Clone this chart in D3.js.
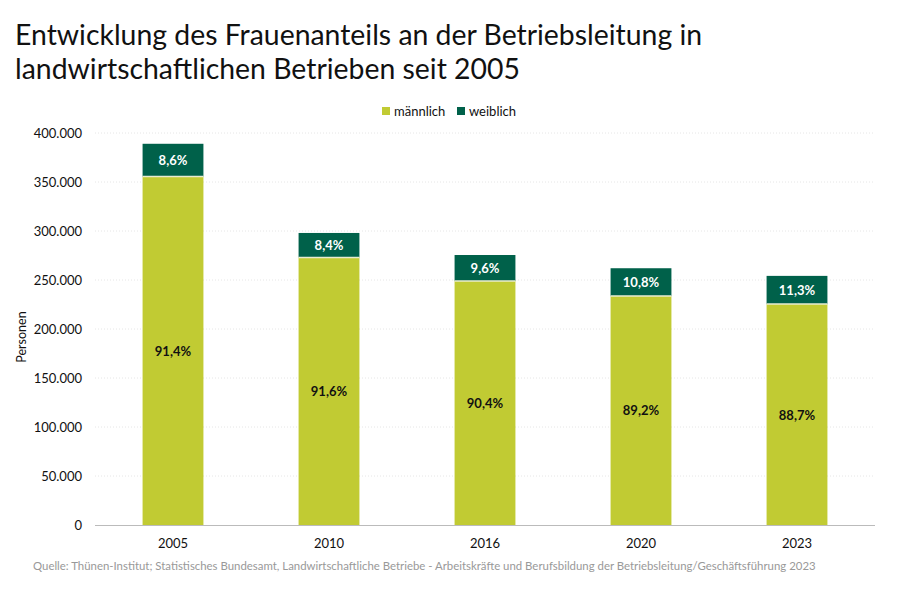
<!DOCTYPE html>
<html><head><meta charset="utf-8">
<script src="https://cdn.jsdelivr.net/npm/d3@7"></script>
<style>body{margin:0;background:#fff}svg{display:block}text{font-family:Lato,"Noto Sans",sans-serif}</style>
</head><body><svg id="c" width="900" height="590"></svg>
<script>
const years = ["2005","2010","2016","2020","2023"];
const maleValues = [355500, 273000, 249000, 233700, 225500];
const femaleValues = [33500, 25000, 26500, 28300, 28700];
const maleLabels = ["91,4%","91,6%","90,4%","89,2%","88,7%"];
const femaleLabels = ["8,6%","8,4%","9,6%","10,8%","11,3%"];
const yTicks = [0,50000,100000,150000,200000,250000,300000,350000,400000];
const seriesNames = ["männlich","weiblich"];
const colors = ["#c1cb33","#00614a"];

const svg = d3.select("#c");
const m = {l:95, r:875, t:133, b:525};
const x = d3.scaleBand().domain(years).range([m.l, m.r]).paddingInner(0.61).paddingOuter(0.305);
const y = d3.scaleLinear().domain([0,400000]).range([m.b, m.t]);
const fmt = v => d3.format(",")(v).replace(/,/g,".");

// title
const title = svg.append("text").attr("font-size",28.4).attr("fill","#111");
title.append("tspan").attr("x",15).attr("y",45).text("Entwicklung des Frauenanteils an der Betriebsleitung in");
title.append("tspan").attr("x",15).attr("y",79).text("landwirtschaftlichen Betrieben seit 2005");

// grid
svg.append("g").selectAll("line").data(yTicks.filter(d=>d>0)).join("line")
  .attr("x1",m.l).attr("x2",m.r).attr("y1",d=>y(d)).attr("y2",d=>y(d))
  .attr("stroke","#e6e6e6").attr("stroke-dasharray","1,2").attr("stroke-width",1);

// y axis
const ya = svg.append("g").attr("transform",`translate(${m.l},0)`)
  .call(d3.axisLeft(y).tickValues(yTicks).tickFormat(fmt).tickSize(0).tickPadding(13));
ya.select(".domain").remove();
ya.selectAll("text").attr("font-size",13).attr("fill","#111").style("font-family","Lato,'Noto Sans',sans-serif");

svg.append("text").attr("transform","translate(26,337) rotate(-90)").attr("text-anchor","middle")
  .attr("font-size",12.5).attr("fill","#111").text("Personen");

// bars
const data = years.map((yr,i)=>({yr, m:maleValues[i], f:femaleValues[i], ml:maleLabels[i], fl:femaleLabels[i]}));
const g = svg.append("g");
g.selectAll("rect.m").data(data).join("rect").attr("class","m")
  .attr("x",d=>x(d.yr)).attr("width",x.bandwidth())
  .attr("y",d=>y(d.m)).attr("height",d=>y(0)-y(d.m)).attr("fill",colors[0]);
g.selectAll("rect.f").data(data).join("rect").attr("class","f")
  .attr("x",d=>x(d.yr)).attr("width",x.bandwidth())
  .attr("y",d=>y(d.m+d.f)).attr("height",d=>y(d.m)-y(d.m+d.f)).attr("fill",colors[1]);
g.selectAll("line.sep").data(data).join("line").attr("class","sep")
  .attr("x1",d=>x(d.yr)).attr("x2",d=>x(d.yr)+x.bandwidth())
  .attr("y1",d=>y(d.m)).attr("y2",d=>y(d.m)).attr("stroke","#e8ecd0").attr("stroke-width",1.5);

g.selectAll("text.ml").data(data).join("text").attr("class","ml")
  .attr("x",d=>x(d.yr)+x.bandwidth()/2).attr("y",d=>y(d.m/2)+5)
  .attr("text-anchor","middle").attr("font-size",13).attr("font-weight","bold").attr("fill","#111").text(d=>d.ml);
g.selectAll("text.fl").data(data).join("text").attr("class","fl")
  .attr("x",d=>x(d.yr)+x.bandwidth()/2).attr("y",d=>y(d.m+d.f/2)+5)
  .attr("text-anchor","middle").attr("font-size",13).attr("font-weight","bold").attr("fill","#fff").text(d=>d.fl);

// baseline
svg.append("line").attr("x1",m.l).attr("x2",m.r).attr("y1",y(0)+0.5).attr("y2",y(0)+0.5).attr("stroke","#bbb");

// x axis
const xa = svg.append("g").attr("transform",`translate(0,${m.b})`)
  .call(d3.axisBottom(x).tickSize(0).tickPadding(14));
xa.select(".domain").remove();
xa.selectAll("text").attr("font-size",13).attr("fill","#111").style("font-family","Lato,'Noto Sans',sans-serif");

// legend
const leg = svg.append("g");
const lx = [382, 457];
seriesNames.forEach((n,i)=>{
  leg.append("rect").attr("x",lx[i]).attr("y",107).attr("width",8).attr("height",8).attr("fill",colors[i]);
  leg.append("text").attr("x",lx[i]+12).attr("y",116).attr("font-size",13).attr("fill","#111").text(n);
});

// source
svg.append("text").attr("x",33).attr("y",570).attr("font-size",11.4).attr("fill","#999")
  .text("Quelle: Thünen-Institut; Statistisches Bundesamt, Landwirtschaftliche Betriebe - Arbeitskräfte und Berufsbildung der Betriebsleitung/Geschäftsführung 2023");
</script></body></html>
